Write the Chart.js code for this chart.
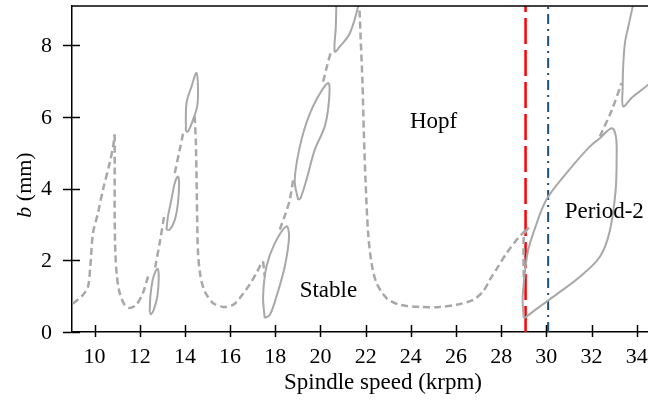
<!DOCTYPE html>
<html lang="en">
<head>
  <meta charset="UTF-8">
  <title>Stability lobes</title>
  <script src="https://cdn.jsdelivr.net/npm/chart.js"></script>
  <style>
    * { margin: 0; padding: 0; }
    body { background: #fff; }
  </style>
</head>
<body>
<canvas id="lobes" width="648" height="402"></canvas>

<script>
  // axis ticks
  const xTicks = [10, 12, 14, 16, 18, 20, 22, 24, 26, 28, 30, 32, 34];
  const yTicks = [0, 2, 4, 6, 8];
  const xMin = 9, xMax = 34.5, yMin = 0, yMax = 9.1;

  // marked spindle speeds (krpm)
  const hopfSpeed = 29.08;
  const period2Speed = 30.08;

  // dashed boundary pieces [speed, depth]
  const dashA1 = [[9.04,0.79],[9.49,1.04],[9.71,1.27],[9.81,1.83],[9.93,2.76],[10.15,3.32],[10.37,3.97],[10.67,4.72],[10.82,5.18],[10.89,5.51]];
  const dashA2 = [[10.89,5.51],[10.89,4.62],[10.89,3.22],[10.92,2.2],[10.99,1.55],[11.11,1.09],[11.33,0.76],[11.56,0.67],[11.85,0.76],[12.14,1.09],[12.37,1.55],[12.44,1.6]];
  const dashB = [[12.68,1.8],[12.9,2.55],[13.1,3.32]];
  const dashC = [[13.55,4.44],[13.77,5.09],[13.92,5.55]];
  const dashD = [[14.43,6.02],[14.48,5.37],[14.51,4.44],[14.54,3.23],[14.58,2.2],[14.69,1.55],[14.88,1.13],[15.24,0.81],[15.69,0.70],[16.13,0.76],[16.43,0.95],[16.87,1.33],[17.17,1.65],[17.39,1.93],[17.46,1.97]];
  const dashD2 = [[17.46,1.97],[17.5,1.75],[17.53,1.55]];
  const dashE = [[18.2,2.86],[18.45,3.3],[18.64,3.69],[18.79,4.25]];
  const dashF = [[20.12,6.99],[20.3,7.45],[20.49,7.88]];
  const dashG = [[21.71,9.28],[21.77,8.34],[21.86,6.95],[21.92,5.55],[22.0,4.16],[22.11,2.76],[22.26,1.93],[22.48,1.37],[22.92,0.95],[23.51,0.76],[24.4,0.70],[25.28,0.70],[26.02,0.76],[26.76,0.9],[27.2,1.13],[27.5,1.46],[27.87,1.83],[28.24,2.2],[28.75,2.62],[29.22,2.92]];
  const dashG2 = [[29.22,2.92],[29.02,2.72],[28.99,2.1],[29.0,1.46]];
  const dashH = [[32.37,5.46],[32.9,6.2],[33.33,6.95]];

  // period-doubling islands (solid)
  const loop1 = [[12.44,0.55],[12.47,1.0],[12.57,1.45],[12.7,1.7],[12.8,1.76],[12.84,1.5],[12.78,1.0],[12.62,0.62],[12.5,0.5],[12.44,0.55]];
  const loop2 = [[13.18,2.86],[13.25,3.23],[13.4,3.69],[13.55,4.16],[13.69,4.34],[13.74,4.16],[13.69,3.6],[13.55,3.13],[13.33,2.86],[13.18,2.86]];
  const loop3 = [[14.04,5.6],[14.07,6.39],[14.29,6.85],[14.51,7.23],[14.58,6.76],[14.54,6.3],[14.36,5.93],[14.14,5.6],[14.04,5.6]];
  const loop4 = [[17.53,0.39],[17.46,0.99],[17.61,1.83],[17.98,2.48],[18.49,2.95],[18.61,2.67],[18.42,1.83],[18.05,0.99],[17.76,0.48],[17.53,0.39]];
  const loop5 = [[19.01,3.69],[18.86,4.25],[19.16,5.37],[19.67,6.3],[20.34,6.95],[20.38,6.48],[20.19,5.74],[19.75,5.09],[19.38,4.25],[19.12,3.74],[19.01,3.69]];
  const loop6 = [[20.71,9.4],[20.68,8.53],[20.63,7.83],[20.86,7.97],[21.3,8.34],[21.67,9.09],[21.72,9.3]];
  const loop7 = [[29.0,0.39],[28.95,0.9],[29.0,1.37],[29.08,1.83],[29.2,2.3],[29.42,2.76],[30.0,3.69],[30.9,4.44],[31.93,5.18],[32.37,5.41],[32.89,5.69],[33.08,5.46],[33.11,4.81],[33.06,3.9],[32.8,2.8],[32.37,2.1],[31.5,1.55],[30.45,1.05],[29.6,0.66],[29.1,0.42],[29.0,0.39]];
  const loop8 = [[33.9,9.3],[33.63,8.53],[33.48,8.07],[33.4,7.41],[33.38,6.85],[33.4,6.3],[33.8,6.55],[34.2,6.75],[34.7,7.0]];

  // region labels [text, speed, depth]
  const regionLabels = [['Hopf', 23.96, 5.70], ['Stable', 19.08, 0.99], ['Period-2', 30.81, 3.19]];

  const gray = '#a8a8a8';
  const pts = arr => arr.map(p => ({ x: p[0], y: p[1] }));

  const dashed = [dashA1, dashA2, dashB, dashC, dashD, dashD2, dashE, dashF, dashG, dashG2, dashH].map(d => ({
    data: pts(d), borderColor: gray, borderWidth: 2.5, borderDash: [7, 4], tension: 0.3
  }));
  const solid = [loop1, loop2, loop3, loop4, loop5, loop6, loop7, loop8].map(d => ({
    data: pts(d), borderColor: gray, borderWidth: 2, tension: 0.35
  }));

  const datasets = dashed.concat(solid, [
    { data: [{ x: hopfSpeed, y: yMin }, { x: hopfSpeed, y: yMax }], borderColor: '#ff0000', borderWidth: 2.5, borderDash: [26, 6] },
    { data: [{ x: period2Speed, y: yMin }, { x: period2Speed, y: yMax }], borderColor: '#1f4e79', borderWidth: 2, borderDash: [10, 5, 2, 5] }
  ]);

  const serif = '"Liberation Serif", "Times New Roman", serif';

  // frame, crossing ticks, tick labels, titles and region names
  const decorations = {
    id: 'decorations',
    afterDatasetsDraw(chart) {
      const { ctx, chartArea: a, scales: { x, y } } = chart;
      ctx.save();
      ctx.strokeStyle = '#000';
      ctx.lineWidth = 1.5;
      ctx.beginPath();
      ctx.moveTo(a.left, a.top);
      ctx.lineTo(a.right, a.top);
      ctx.stroke();

      ctx.beginPath();
      xTicks.forEach(v => {
        const px = Math.round(x.getPixelForValue(v)) + 0.5;
        ctx.moveTo(px, a.bottom - 7);
        ctx.lineTo(px, a.bottom + 5);
      });
      yTicks.forEach(v => {
        const py = Math.round(y.getPixelForValue(v)) + 0.5;
        ctx.moveTo(a.left - 9, py);
        ctx.lineTo(a.left + 8, py);
      });
      ctx.stroke();

      ctx.fillStyle = '#000';
      ctx.font = '22px ' + serif;
      ctx.textAlign = 'center';
      ctx.textBaseline = 'middle';
      xTicks.forEach(v => ctx.fillText(String(v), x.getPixelForValue(v), a.bottom + 25));
      ctx.textAlign = 'right';
      yTicks.forEach(v => ctx.fillText(String(v), a.left - 20, y.getPixelForValue(v) + 1));

      ctx.font = '23px ' + serif;
      ctx.textBaseline = 'alphabetic';
      ctx.textAlign = 'left';
      regionLabels.forEach(l => ctx.fillText(l[0], x.getPixelForValue(l[1]), y.getPixelForValue(l[2])));

      ctx.textAlign = 'center';
      ctx.textBaseline = 'middle';
      ctx.fillText('Spindle speed (krpm)', (a.left + a.right) / 2 + 23, 383);

      // y title with italic b
      ctx.translate(25, 185);
      ctx.rotate(-Math.PI / 2);
      ctx.textAlign = 'left';
      ctx.font = 'italic 22px ' + serif;
      const wb = ctx.measureText('b').width;
      ctx.font = '22px ' + serif;
      const wr = ctx.measureText(' (mm)').width;
      const start = -(wb + wr) / 2;
      ctx.font = 'italic 22px ' + serif;
      ctx.fillText('b', start, 0);
      ctx.font = '22px ' + serif;
      ctx.fillText(' (mm)', start + wb, 0);
      ctx.restore();
    }
  };

  new Chart(document.getElementById('lobes'), {
    type: 'scatter',
    data: { datasets },
    options: {
      responsive: false,
      animation: false,
      showLine: true,
      layout: { padding: { top: 6, right: 0, left: 0, bottom: 0 } },
      elements: { point: { radius: 0 } },
      plugins: { legend: { display: false }, tooltip: { enabled: false } },
      scales: {
        x: {
          type: 'linear', min: xMin, max: xMax,
          afterBuildTicks: s => { s.ticks = xTicks.map(v => ({ value: v })); },
          afterFit: s => { s.height = 70; },
          grid: { display: false, drawTicks: false },
          border: { display: true, color: '#000', width: 1.5 },
          ticks: { display: false }
        },
        y: {
          type: 'linear', min: yMin, max: yMax,
          afterBuildTicks: s => { s.ticks = yTicks.map(v => ({ value: v })); },
          afterFit: s => { s.width = 72; },
          grid: { display: false, drawTicks: false },
          border: { display: true, color: '#000', width: 1.5 },
          ticks: { display: false }
        }
      }
    },
    plugins: [decorations]
  });
</script>
</body>
</html>
